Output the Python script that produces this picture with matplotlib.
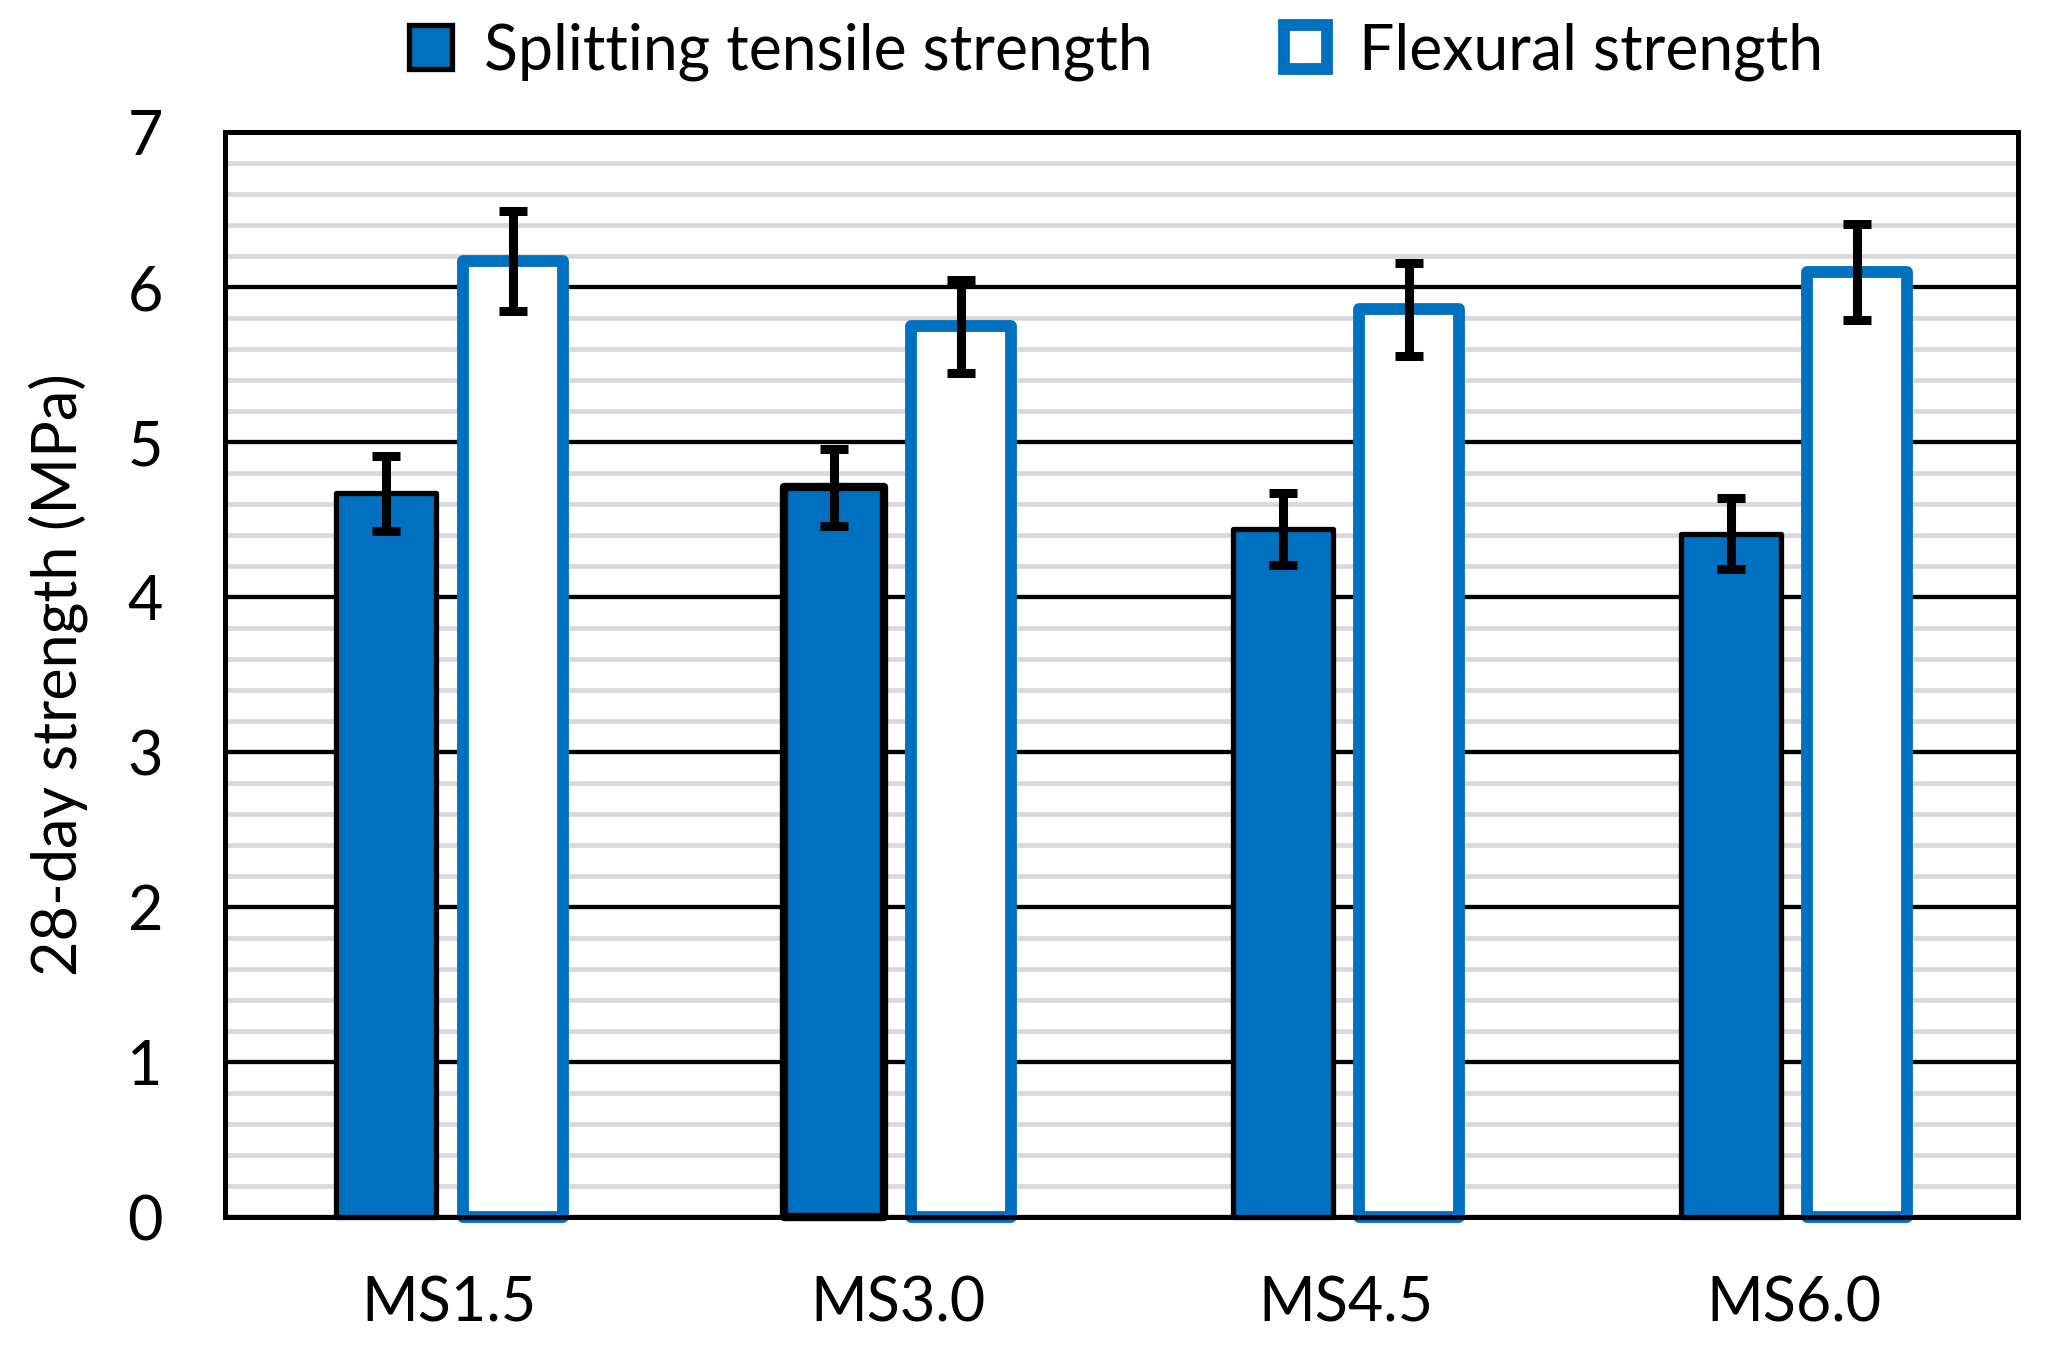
import numpy as np
import matplotlib
matplotlib.use('Agg')
import matplotlib.pyplot as plt
from matplotlib.ticker import MultipleLocator

plt.rcParams['font.family'] = ['Lato', 'DejaVu Sans']

###############################################################################
# Values (MPa)

mixes = ['MS1.5', 'MS3.0', 'MS4.5', 'MS6.0']
split_mean = [4.67, 4.71, 4.44, 4.41]
split_err = [0.24, 0.25, 0.23, 0.23]
flex_mean = [6.17, 5.75, 5.86, 6.10]
flex_err = [0.32, 0.30, 0.30, 0.31]

blue = '#0070c0'

fig = plt.figure(figsize=(20.47, 13.51), dpi=100)
ax = fig.add_axes([0.110, 0.099, 0.876, 0.803])

x = np.arange(len(mixes))
width = 0.223
offset = 0.141

split_lw = [3.8, 6.0, 3.8, 3.8]
bars1 = ax.bar(x - offset, split_mean, width, color=blue, edgecolor='black',
               linewidth=split_lw, zorder=3, label='Splitting tensile strength')
bars2 = ax.bar(x + offset, flex_mean, width, color='white', edgecolor=blue,
               linewidth=8.5, zorder=3, label='Flexural strength')
for b in list(bars1) + list(bars2):
    b.set_clip_on(False)
    b.set_joinstyle('round')

ax.errorbar(x - offset, split_mean, yerr=split_err, fmt='none', ecolor='black',
            elinewidth=6.5, capsize=10, capthick=6.5, zorder=4)
ax.errorbar(x + offset, flex_mean, yerr=flex_err, fmt='none', ecolor='black',
            elinewidth=6.5, capsize=10, capthick=6.5, zorder=4)

ax.set_xlim(-0.5, len(mixes) - 0.5)
ax.set_ylim(0, 7)
ax.set_xticks(x)
ax.set_xticklabels(mixes)
ax.yaxis.set_major_locator(MultipleLocator(1))
ax.yaxis.set_minor_locator(MultipleLocator(0.2))
ax.grid(which='minor', axis='y', color='#d9d9d9', linewidth=3.4, zorder=1)
ax.grid(which='major', axis='y', color='black', linewidth=3.1, zorder=2)
ax.set_axisbelow(True)

ax.tick_params(axis='both', which='both', length=0, labelsize=44)
ax.tick_params(axis='x', pad=42)
ax.tick_params(axis='y', pad=45)
ax.set_ylabel('28-day strength (MPa)', fontsize=44, labelpad=28)

for side in ['left', 'right', 'top', 'bottom']:
    ax.spines[side].set_linewidth(3.6)
    ax.spines[side].set_zorder(5)

fig.legend(loc='center', bbox_to_anchor=(0.545, 0.962), ncol=2,
           frameon=False, fontsize=45, handlelength=0.7, handleheight=0.7,
           columnspacing=2.1, handletextpad=0.5)

fig.savefig('out.png', dpi=100)
